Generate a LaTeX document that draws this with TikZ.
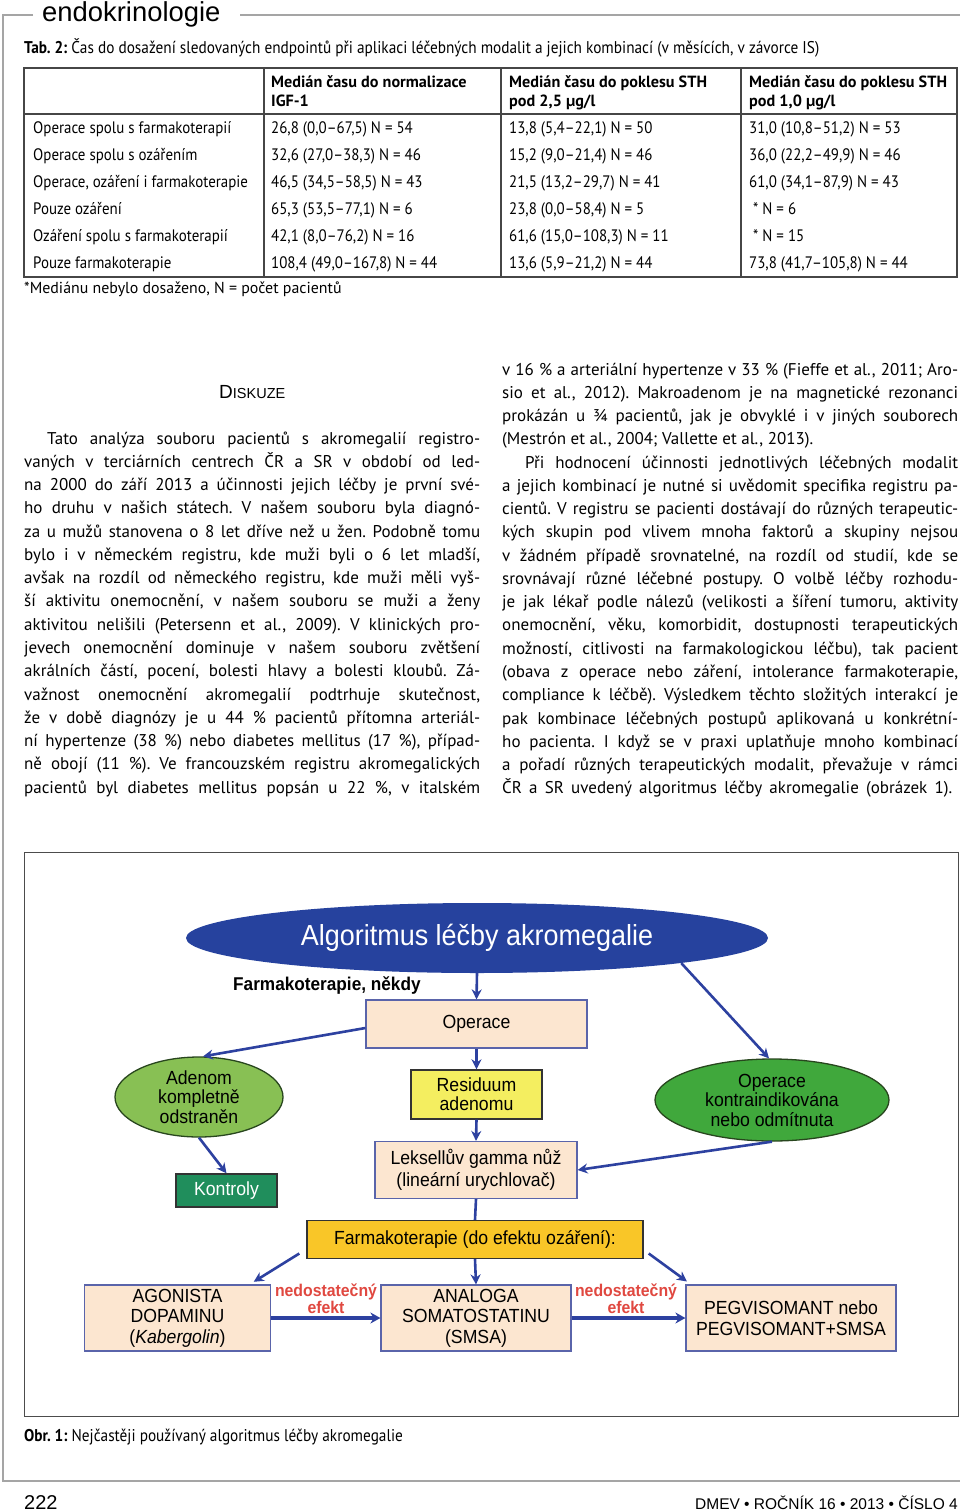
\documentclass[tikz,border=0pt]{standalone}
\usepackage{fontspec}
\setmainfont{PT Sans}
\newfontfamily\bodyf{PT Sans}
\newfontfamily\tabf[FakeStretch=0.9]{PT Sans}
\newfontfamily\diaf[FakeStretch=0.93]{Liberation Sans}
\newfontfamily\headf{Liberation Sans}
\usetikzlibrary{arrows.meta,shapes.geometric}
\definecolor{framegray}{RGB}{165,165,165}
\definecolor{tabline}{RGB}{70,70,70}
\definecolor{dblue}{RGB}{38,66,158}
\definecolor{arrblue}{RGB}{45,65,160}
\definecolor{peach}{RGB}{252,230,208}
\definecolor{boxedge}{RGB}{90,100,170}
\definecolor{resyellow}{RGB}{244,238,96}
\definecolor{gold}{RGB}{249,198,40}
\definecolor{lgreen}{RGB}{136,192,84}
\definecolor{mgreen}{RGB}{64,168,60}
\definecolor{tealg}{RGB}{32,142,92}
\definecolor{effred}{RGB}{224,72,64}
\definecolor{edgegreen}{RGB}{40,70,30}
\newcommand\JL[2][456pt]{{\spaceskip=0.27em plus 3em minus 0.12em\relax\makebox[#1][s]{#2}}}
\frenchspacing
\begin{document}
\frenchspacing
\begin{tikzpicture}[x=1pt,y=-1pt,
  txtL/.style={anchor=base west, inner sep=0pt},
  bodyt/.style={txtL, font=\frenchspacing\bodyf\fontsize{17}{20}\selectfont},
  tabt/.style={txtL, font=\tabf\fontsize{16.6}{18}\selectfont},
  tabh/.style={txtL, font=\bodyf\bfseries\fontsize{16.2}{18}\selectfont},
  dtxt/.style={inner sep=0pt, align=center, font=\diaf\fontsize{19}{19.5}\selectfont},
  pbox/.style={draw=boxedge, line width=1.2pt, fill=peach, inner sep=0pt, align=center, font=\diaf\fontsize{19}{20.5}\selectfont},
  dbox/.style={draw=black!80, line width=1.4pt, inner sep=0pt, align=center, font=\diaf\fontsize{19}{19}\selectfont},
  arr/.style={draw=arrblue, line width=2.6pt, -{Stealth[length=10pt,width=10pt]}},
  harr/.style={draw=arrblue, line width=3.6pt, -{Stealth[length=10pt,width=11pt]}},
  efft/.style={inner sep=0pt, align=center, text=effred, font=\diaf\bfseries\fontsize{17}{14.5}\selectfont}
]
\useasboundingbox (0,0) rectangle (960,1511);
\fill[white] (0,0) rectangle (960,1511);
% page frame
\draw[framegray, line width=1.6pt] (33,15) -- (3,15) -- (3,1481) -- (960,1481);
\draw[framegray, line width=1.6pt] (240,15) -- (960,15);
\node[txtL, font=\headf\fontsize{27.4}{30}\selectfont] (head) at (42,22) {endokrinologie};
% table caption
\node[txtL, font=\tabf\fontsize{17}{18}\selectfont] (tabcap) at (24,54) {\textbf{Tab. 2:} Čas do dosažení sledovaných endpointů při aplikaci léčebných modalit a jejich kombinací (v měsících, v závorce IS)};
% table
\draw[tabline, line width=1.3pt] (24,68) rectangle (957,277);
\draw[tabline, line width=1.1pt] (24,114) -- (957,114);
\draw[tabline, line width=1.1pt] (264,68) -- (264,277) (501,68) -- (501,277) (741,68) -- (741,277);
\node[tabh] (h1a) at (271,87.5) {Medián času do normalizace};
\node[tabh] (h1b) at (271,106.5) {IGF-1};
\node[tabh] (h2a) at (509,87.5) {Medián času do poklesu STH};
\node[tabh] (h2b) at (509,106.5) {pod 2,5 µg/l};
\node[tabh] (h3a) at (749,87.5) {Medián času do poklesu STH};
\node[tabh] (h3b) at (749,106.5) {pod 1,0 µg/l};
\node[tabt] (r1a) at (33,133.5) {Operace spolu s farmakoterapií};
\node[tabt] (r1b) at (271,133.5) {26,8 (0,0–67,5) N = 54};
\node[tabt] (r1c) at (509,133.5) {13,8 (5,4–22,1) N = 50};
\node[tabt] (r1d) at (749,133.5) {31,0 (10,8–51,2) N = 53};
\node[tabt] (r2a) at (33,160.5) {Operace spolu s ozářením};
\node[tabt] (r2b) at (271,160.5) {32,6 (27,0–38,3) N = 46};
\node[tabt] (r2c) at (509,160.5) {15,2 (9,0–21,4) N = 46};
\node[tabt] (r2d) at (749,160.5) {36,0 (22,2–49,9) N = 46};
\node[tabt] (r3a) at (33,187.5) {Operace, ozáření i farmakoterapie};
\node[tabt] (r3b) at (271,187.5) {46,5 (34,5–58,5) N = 43};
\node[tabt] (r3c) at (509,187.5) {21,5 (13,2–29,7) N = 41};
\node[tabt] (r3d) at (749,187.5) {61,0 (34,1–87,9) N = 43};
\node[tabt] (r4a) at (33,214.5) {Pouze ozáření};
\node[tabt] (r4b) at (271,214.5) {65,3 (53,5–77,1) N = 6};
\node[tabt] (r4c) at (509,214.5) {23,8 (0,0–58,4) N = 5};
\node[tabt] (r4d) at (753,214.5) {* N = 6};
\node[tabt] (r5a) at (33,241.5) {Ozáření spolu s farmakoterapií};
\node[tabt] (r5b) at (271,241.5) {42,1 (8,0–76,2) N = 16};
\node[tabt] (r5c) at (509,241.5) {61,6 (15,0–108,3) N = 11};
\node[tabt] (r5d) at (753,241.5) {* N = 15};
\node[tabt] (r6a) at (33,268.5) {Pouze farmakoterapie};
\node[tabt] (r6b) at (271,268.5) {108,4 (49,0–167,8) N = 44};
\node[tabt] (r6c) at (509,268.5) {13,6 (5,9–21,2) N = 44};
\node[tabt] (r6d) at (749,268.5) {73,8 (41,7–105,8) N = 44};
\node[txtL, font=\bodyf\fontsize{15.9}{17}\selectfont] (tabnote) at (24,294) {*Mediánu nebylo dosaženo, N = počet pacientů};
% heading
\node[txtL, font=\headf] (disk) at (219,398) {\fontsize{19}{20}\selectfont D\fontsize{14.5}{16}\selectfont ISKUZE};
% left column
\node[bodyt] (l1) at (47,444) {\JL[433pt]{Tato analýza souboru pacientů s akromegalií registro-}};
\node[bodyt] (l2) at (24,467.3) {\JL{vaných v terciárních centrech ČR a SR v období od led-}};
\node[bodyt] (l3) at (24,490.5) {\JL{na 2000 do září 2013 a účinnosti jejich léčby je první své-}};
\node[bodyt] (l4) at (24,513.8) {\JL{ho druhu v našich státech. V našem souboru byla diagnó-}};
\node[bodyt] (l5) at (24,537.1) {\JL{za u mužů stanovena o 8 let dříve než u žen. Podobně tomu}};
\node[bodyt] (l6) at (24,560.4) {\JL{bylo i v německém registru, kde muži byli o 6 let mladší,}};
\node[bodyt] (l7) at (24,583.6) {\JL{avšak na rozdíl od německého registru, kde muži měli vyš-}};
\node[bodyt] (l8) at (24,606.9) {\JL{ší aktivitu onemocnění, v našem souboru se muži a ženy}};
\node[bodyt] (l9) at (24,630.2) {\JL{aktivitou nelišili (Petersenn et al., 2009). V klinických pro-}};
\node[bodyt] (l10) at (24,653.4) {\JL{jevech onemocnění dominuje v našem souboru zvětšení}};
\node[bodyt] (l11) at (24,676.7) {\JL{akrálních částí, pocení, bolesti hlavy a bolesti kloubů. Zá-}};
\node[bodyt] (l12) at (24,700) {\JL{važnost onemocnění akromegalií podtrhuje skutečnost,}};
\node[bodyt] (l13) at (24,723.2) {\JL{že v době diagnózy je u 44 \% pacientů přítomna arteriál-}};
\node[bodyt] (l14) at (24,746.5) {\JL{ní hypertenze (38 \%) nebo diabetes mellitus (17 \%), případ-}};
\node[bodyt] (l15) at (24,769.8) {\JL{ně obojí (11 \%). Ve francouzském registru akromegalických}};
\node[bodyt] (l16) at (24,793) {\JL{pacientů byl diabetes mellitus popsán u 22 \%, v italském}};
% right column
\node[bodyt] (q1) at (502,375) {\JL{v 16 \% a arteriální hypertenze v 33 \% (Fieffe et al., 2011; Aro-}};
\node[bodyt] (q2) at (502,398.3) {\JL{sio et al., 2012). Makroadenom je na magnetické rezonanci}};
\node[bodyt] (q3) at (502,421.5) {\JL{prokázán u ¾ pacientů, jak je obvyklé i v jiných souborech}};
\node[bodyt] (q4) at (502,444.8) {(Mestrón et al., 2004; Vallette et al., 2013).};
\node[bodyt] (q5) at (525,468.1) {\JL[433pt]{Při hodnocení účinnosti jednotlivých léčebných modalit}};
\node[bodyt] (q6) at (502,491.3) {\JL{a jejich kombinací je nutné si uvědomit specifika registru pa-}};
\node[bodyt] (q7) at (502,514.6) {\JL{cientů. V registru se pacienti dostávají do různých terapeutic-}};
\node[bodyt] (q8) at (502,537.9) {\JL{kých skupin pod vlivem mnoha faktorů a skupiny nejsou}};
\node[bodyt] (q9) at (502,561.1) {\JL{v žádném případě srovnatelné, na rozdíl od studií, kde se}};
\node[bodyt] (q10) at (502,584.4) {\JL{srovnávají různé léčebné postupy. O volbě léčby rozhodu-}};
\node[bodyt] (q11) at (502,607.7) {\JL{je jak lékař podle nálezů (velikosti a šíření tumoru, aktivity}};
\node[bodyt] (q12) at (502,630.9) {\JL{onemocnění, věku, komorbidit, dostupnosti terapeutických}};
\node[bodyt] (q13) at (502,654.2) {\JL{možností, citlivosti na farmakologickou léčbu), tak pacient}};
\node[bodyt] (q14) at (502,677.5) {\JL{(obava z operace nebo záření, intolerance farmakoterapie,}};
\node[bodyt] (q15) at (502,700.7) {\JL{compliance k léčbě). Výsledkem těchto složitých interakcí je}};
\node[bodyt] (q16) at (502,724) {\JL{pak kombinace léčebných postupů aplikovaná u konkrétní-}};
\node[bodyt] (q17) at (502,747.3) {\JL{ho pacienta. I když se v praxi uplatňuje mnoho kombinací}};
\node[bodyt] (q18) at (502,770.5) {\JL{a pořadí různých terapeutických modalit, převažuje v rámci}};
\node[bodyt] (q19) at (502,793.8) {\JL[450pt]{ČR a SR uvedený algoritmus léčby akromegalie (obrázek 1).}};
% figure frame
\draw[black!70, line width=1pt] (24,852) rectangle (958,1416);
% diagram
\node[ellipse, fill=dblue, minimum width=582pt, minimum height=70pt, inner sep=0pt] (algE) at (477,938) {};
\node[dtxt, text=white, font=\diaf\fontsize{29}{30}\selectfont] (algT) at (algE) {Algoritmus léčby akromegalie};
\node[txtL, font=\diaf\bfseries\fontsize{18.5}{20}\selectfont] (farmN) at (233,990) {Farmakoterapie, někdy};
\node[pbox, minimum width=221pt, minimum height=48pt] (oper) at (476.5,1024) {Operace};
\node[dbox, fill=resyellow, minimum width=131pt, minimum height=49pt] (resid) at (476.5,1094.5) {Residuum\\adenomu};
\node[pbox, minimum width=202pt, minimum height=57pt, font=\diaf\fontsize{19}{22}\selectfont] (leks) at (476,1170) {Leksellův gamma nůž\\(lineární urychlovač)};
\node[dbox, fill=gold, minimum width=336pt, minimum height=38pt] (farm) at (475,1239.5) {Farmakoterapie (do efektu ozáření):};
\node[pbox, minimum width=186pt, minimum height=66pt] (agon) at (177.5,1318) {AGONISTA\\DOPAMINU\\(\textit{Kabergolin})};
\node[pbox, minimum width=190pt, minimum height=66pt] (anal) at (476,1318) {ANALOGA\\SOMATOSTATINU\\(SMSA)};
\node[pbox, minimum width=210pt, minimum height=66pt] (peg) at (791,1318) {PEGVISOMANT nebo\\PEGVISOMANT+SMSA};
\node[dbox, fill=tealg, text=white, minimum width=101pt, minimum height=33pt] (kontr) at (226.5,1190.5) {Kontroly};
\node[ellipse, draw=edgegreen, line width=1.3pt, fill=lgreen, minimum width=168pt, minimum height=80pt, inner sep=0pt] (adenE) at (199,1097) {};
\node[dtxt] (adenT) at (adenE) {Adenom\\kompletně\\odstraněn};
\node[ellipse, draw=edgegreen, line width=1.3pt, fill=mgreen, minimum width=234pt, minimum height=82pt, inner sep=0pt] (opkE) at (772,1100) {};
\node[dtxt] (opkT) at (opkE) {Operace\\kontraindikována\\nebo odmítnuta};
\node[efft] (eff1) at (326,1299) {nedostatečný\\efekt};
\node[efft] (eff2) at (626,1299) {nedostatečný\\efekt};
% connectors
\draw[arr] (algE.south) -- (oper.north);
\draw[arr] (oper.south) -- (resid.north);
\draw[arr] (resid.south) -- (leks.north);
\draw[draw=arrblue, line width=2.6pt] (leks.south) -- (farm.north);
\draw[arr] ([yshift=-4pt]oper.west) -- ([xshift=4pt]adenE.north);
\draw[arr] (algE.-7) -- ([xshift=-3pt]opkE.north);
\draw[arr] (adenE.south) -- (kontr.north);
\draw[arr] (opkE.south) -- (leks.east);
\draw[arr, shorten >=5pt] ([xshift=-7pt,yshift=-14pt]farm.west) -- ([xshift=72pt]agon.north);
\draw[arr] (farm.south) -- (anal.north);
\draw[arr, shorten >=5pt] ([xshift=5pt,yshift=-14pt]farm.east) -- ([xshift=-100pt]peg.north);
\draw[harr] (agon.east) -- (anal.west);
\draw[harr] (anal.east) -- (peg.west);
% caption and footer
\node[txtL, font=\tabf\fontsize{17}{18}\selectfont] (figcap) at (24,1441) {\textbf{Obr. 1:} Nejčastěji používaný algoritmus léčby akromegalie};
\node[txtL, font=\headf\fontsize{20}{22}\selectfont] (pnum) at (24,1509) {222};
\node[anchor=base east, inner sep=0pt, font=\headf\fontsize{15.5}{17}\selectfont] (journal) at (958,1509) {DMEV • ROČNÍK 16 • 2013 • ČÍSLO 4};
\end{tikzpicture}
\end{document}
